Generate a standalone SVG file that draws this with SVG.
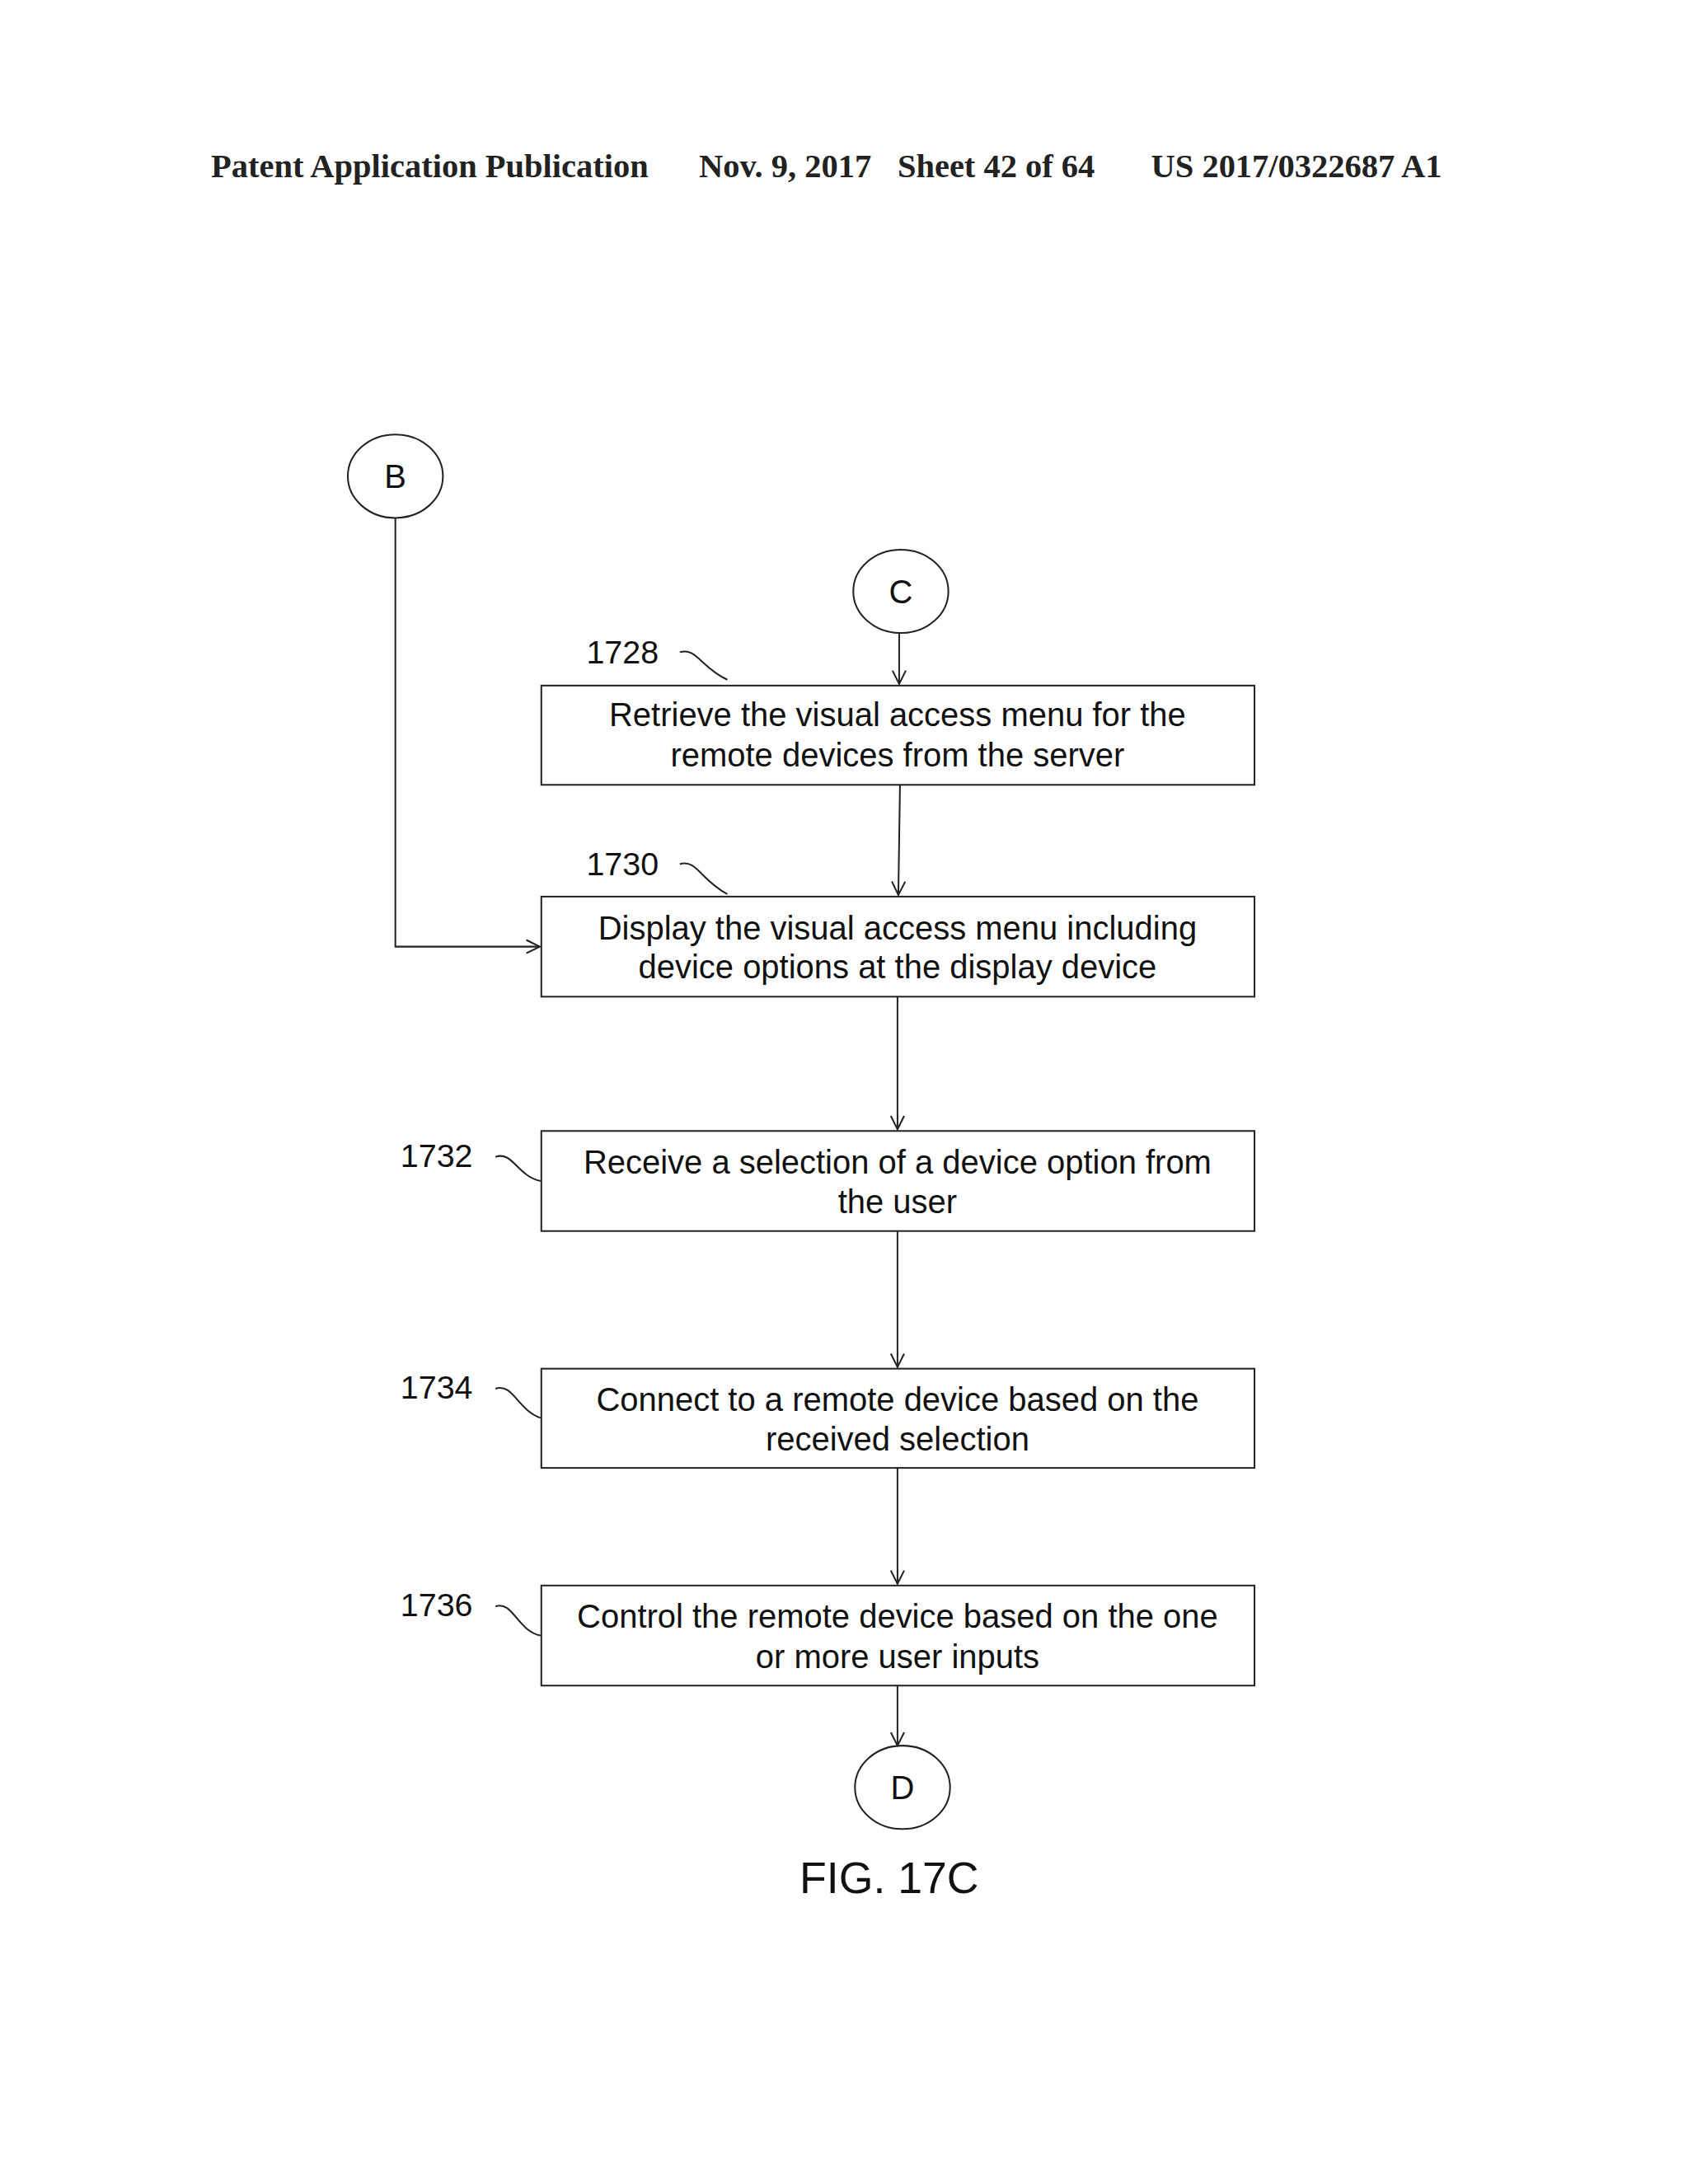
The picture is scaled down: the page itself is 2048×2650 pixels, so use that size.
<svg xmlns="http://www.w3.org/2000/svg" width="2048" height="2650" viewBox="0 0 2048 2650">
<defs>
<style>
.h{font-family:"Liberation Serif",serif;font-weight:bold;font-size:40px;fill:#222}
.t{font-family:"Liberation Sans",Arial,sans-serif;font-size:39.5px;fill:#111;text-anchor:middle}
.l{font-family:"Liberation Sans",Arial,sans-serif;font-size:39px;fill:#111}
.b{fill:#fff;stroke:#222;stroke-width:2}
.c{fill:none;stroke:#222;stroke-width:2}
</style>
<marker id="a" markerWidth="20" markerHeight="20" refX="18" refY="10" orient="auto" markerUnits="userSpaceOnUse"><path d="M2,2 L18,10 L2,18" fill="none" stroke="#222" stroke-width="2"/></marker>
</defs>
<rect width="2048" height="2650" fill="#fff"/>
<g transform="scale(1.012)">
<text class="h" x="253" y="212">Patent Application Publication</text>
<text class="h" x="838" y="212">Nov. 9, 2017</text>
<text class="h" x="1076" y="212">Sheet 42 of 64</text>
<text class="h" x="1380" y="212">US 2017/0322687 A1</text>
<g id="B"><ellipse class="b" cx="474" cy="571" rx="57" ry="50"/><text class="t" x="474" y="585">B</text></g>
<g id="C"><ellipse class="b" cx="1080" cy="709" rx="57" ry="50"/><text class="t" x="1080" y="723">C</text></g>
<g id="n1728"><rect class="b" x="649" y="822" width="855" height="119"/><text class="t" x="1076" y="871">Retrieve the visual access menu for the</text><text class="t" x="1076" y="919">remote devices from the server</text><text class="l" x="703" y="795">1728</text><path class="c" d="M815,782 C835,776 840,800 872,815"/></g>
<g id="n1730"><rect class="b" x="649" y="1075" width="855" height="120"/><text class="t" x="1076" y="1126">Display the visual access menu including</text><text class="t" x="1076" y="1173">device options at the display device</text><text class="l" x="703" y="1049">1730</text><path class="c" d="M815,1036 C835,1030 840,1055 872,1072"/></g>
<g id="n1732"><rect class="b" x="649" y="1356" width="855" height="120"/><text class="t" x="1076" y="1407">Receive a selection of a device option from</text><text class="t" x="1076" y="1455">the user</text><text class="l" x="480" y="1399">1732</text><path class="c" d="M594,1387 C615,1380 620,1410 648,1416"/></g>
<g id="n1734"><rect class="b" x="649" y="1641" width="855" height="119"/><text class="t" x="1076" y="1692">Connect to a remote device based on the</text><text class="t" x="1076" y="1739">received selection</text><text class="l" x="480" y="1677">1734</text><path class="c" d="M594,1665 C615,1658 620,1690 648,1700"/></g>
<g id="n1736"><rect class="b" x="649" y="1901" width="855" height="120"/><text class="t" x="1076" y="1952">Control the remote device based on the one</text><text class="t" x="1076" y="2000">or more user inputs</text><text class="l" x="480" y="1938">1736</text><path class="c" d="M594,1926 C615,1919 620,1955 648,1961"/></g>
<g id="D"><ellipse class="b" cx="1082" cy="2143" rx="57" ry="50"/><text class="t" x="1082" y="2157">D</text></g>
<text class="t" x="1066" y="2270" style="font-size:53px">FIG. 17C</text>
<g id="connectors" class="c">
<path class="c" d="M1078,759 V820" marker-end="url(#a)"/>
<path class="c" d="M1079,941 L1077,1073" marker-end="url(#a)"/>
<path class="c" d="M474,621 V1135 H647" marker-end="url(#a)"/>
<path class="c" d="M1076,1195 V1354" marker-end="url(#a)"/>
<path class="c" d="M1076,1476 V1639" marker-end="url(#a)"/>
<path class="c" d="M1076,1760 V1899" marker-end="url(#a)"/>
<path class="c" d="M1076,2021 V2093" marker-end="url(#a)"/>
</g>
</g>
</svg>
